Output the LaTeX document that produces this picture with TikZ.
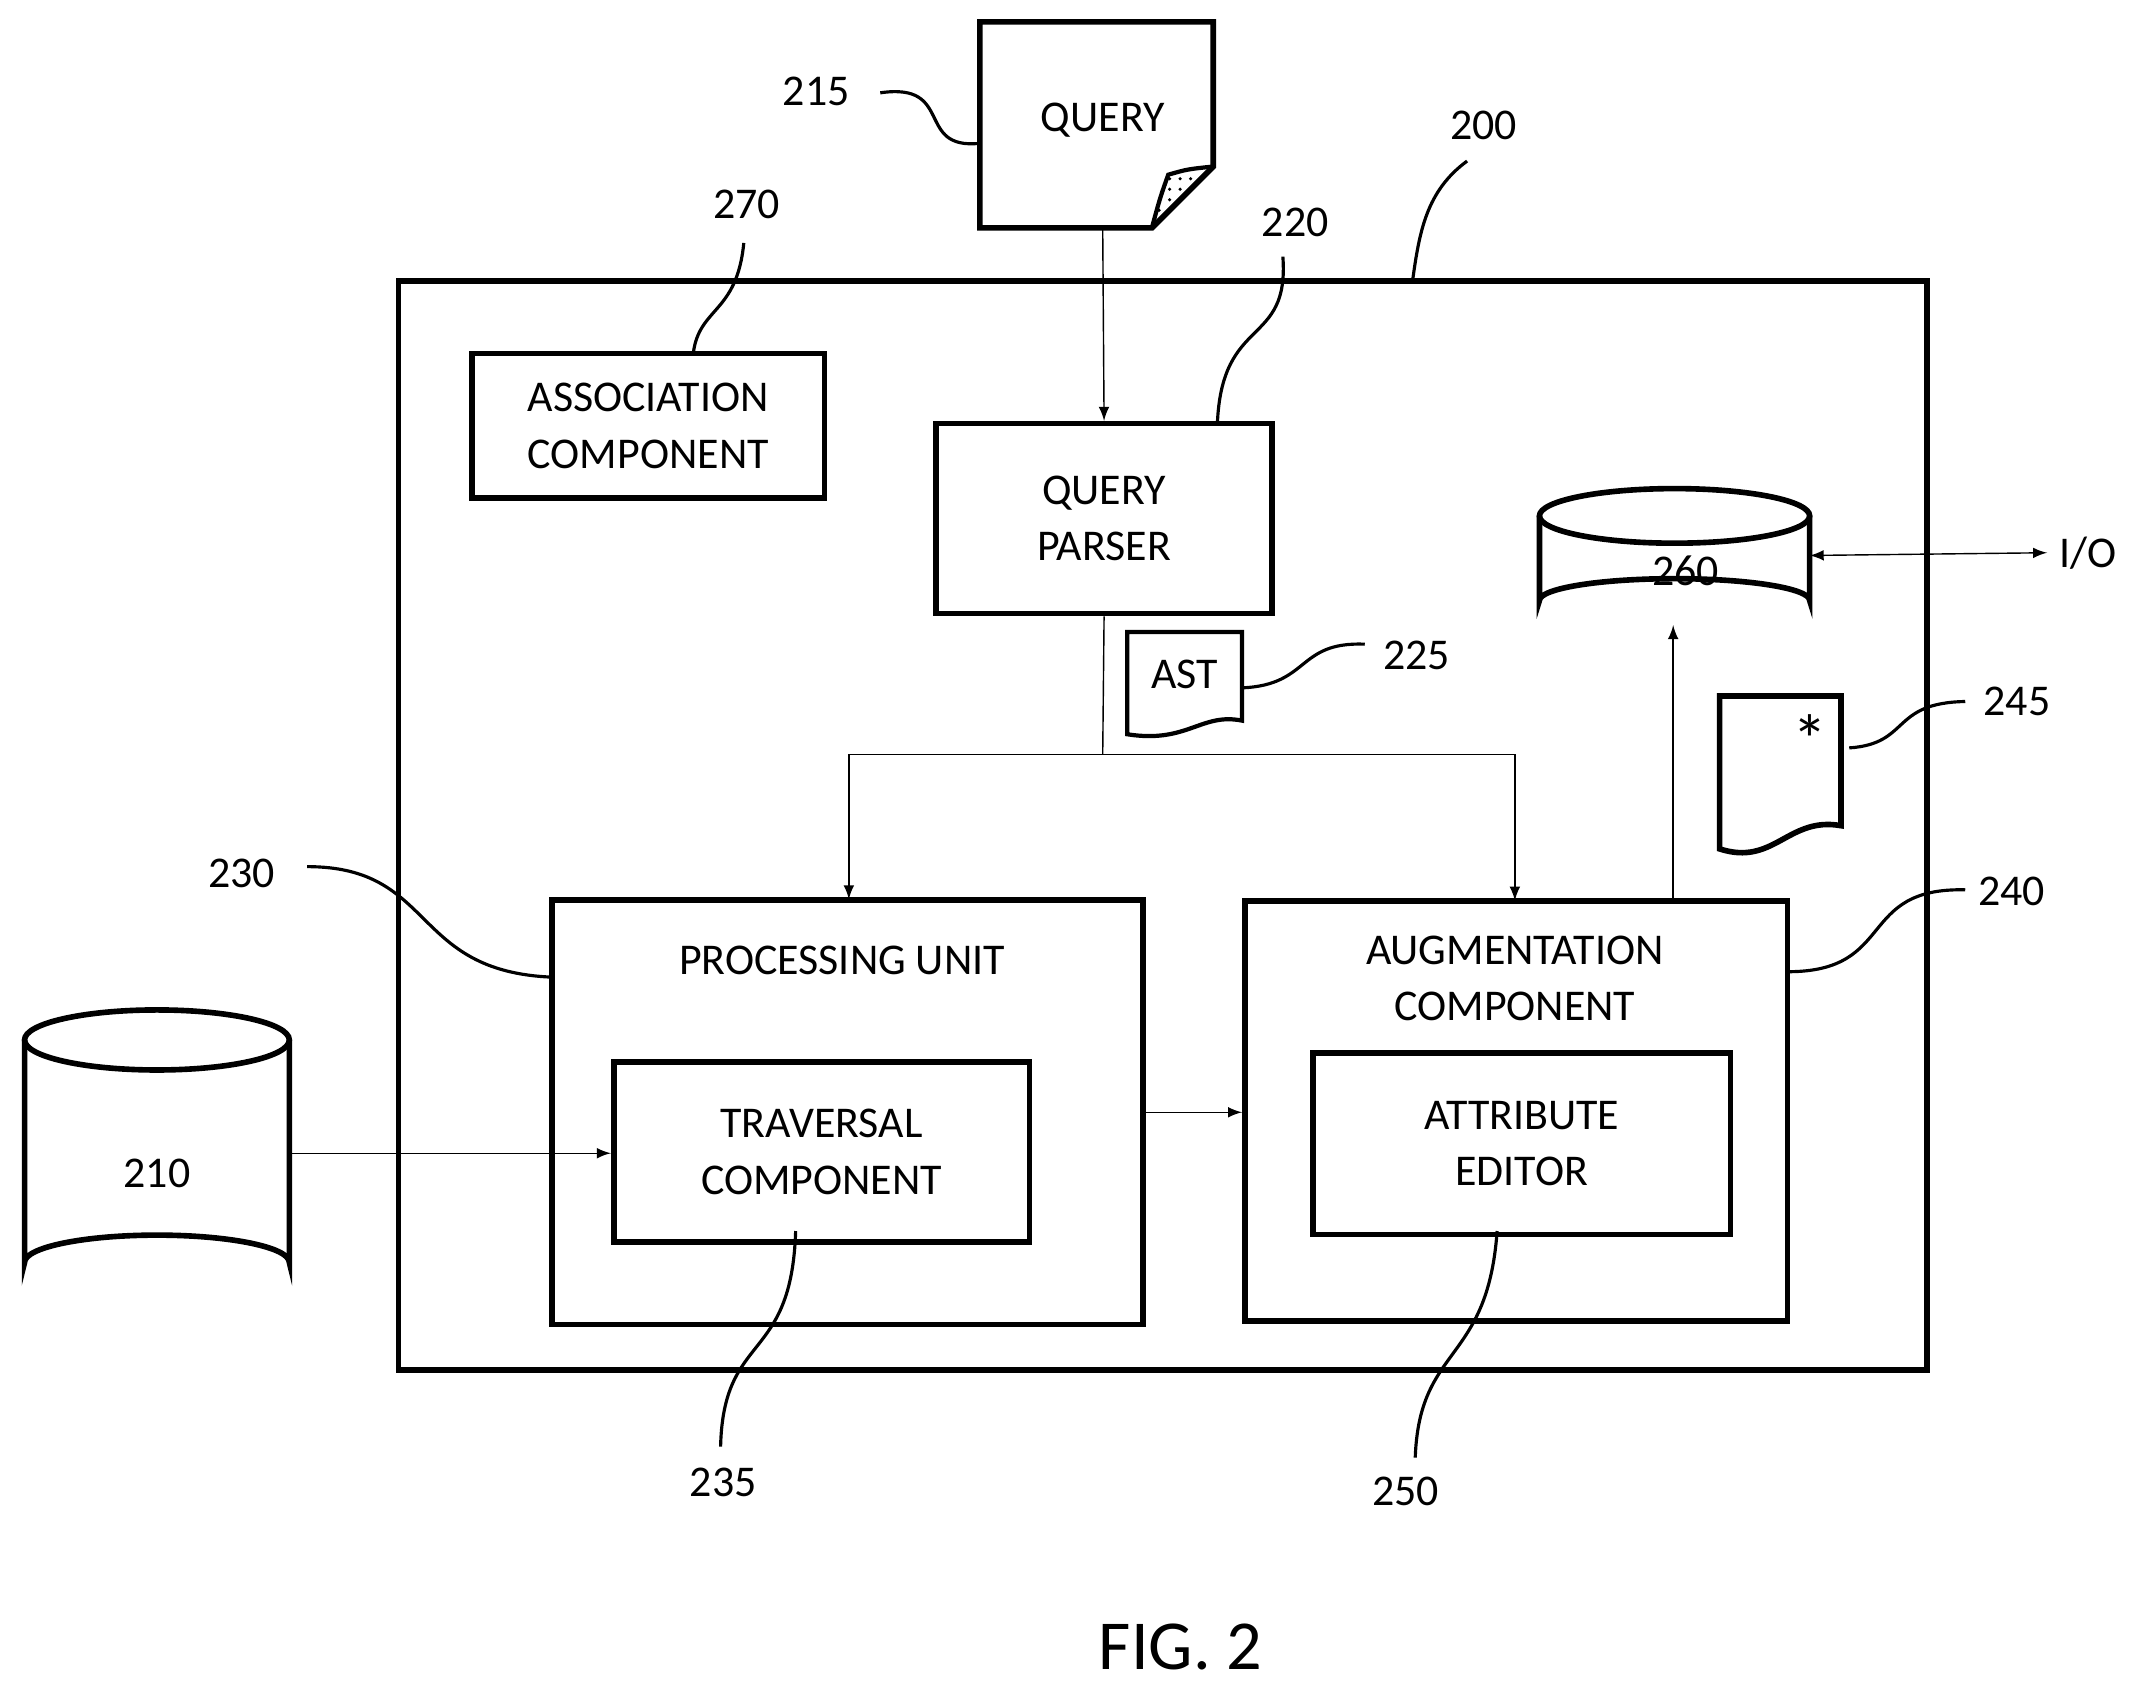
\documentclass[tikz,border=0pt]{standalone}
\usepackage{fontspec}
\setmainfont{Carlito}
\usetikzlibrary{patterns}
\begin{document}
\begin{tikzpicture}[x=0.01365cm,y=-0.01365cm]
% Styles
\tikzstyle{fleche}=[->,>=latex]
\tikzstyle{bloc}=[draw,line width=1.6pt,align=center,font=\fontsize{12.5}{16}\selectfont,inner sep=0pt]
\tikzstyle{renvoi}=[line width=0.9pt]
\tikzstyle{num}=[font=\fontsize{12.5}{15}\selectfont]
\useasboundingbox (0,0) rectangle (1560,1235);
% Boites
\draw[line width=1.6pt] (292,206) rectangle (1412,1004);
\node[bloc,minimum width=3.53cm,minimum height=1.45cm] (Assoc) at (475,312) {ASSOCIATION\\COMPONENT};
\node[bloc,minimum width=3.36cm,minimum height=1.90cm] (Parser) at (809,380) {QUERY\\PARSER};
\node[bloc,minimum width=5.91cm,minimum height=4.25cm] (Proc) at (621,815) {};
\node[num] (ProcT) at (617,704) {PROCESSING UNIT};
\node[bloc,minimum width=4.16cm,minimum height=1.80cm] (Trav) at (602,844) {TRAVERSAL\\COMPONENT};
\node[bloc,minimum width=5.43cm,minimum height=4.20cm] (Aug) at (1111,814) {};
\node[align=center,font=\fontsize{12.5}{16}\selectfont] (AugT) at (1110,717) {AUGMENTATION\\COMPONENT};
\node[bloc,minimum width=4.18cm,minimum height=1.82cm] (Attr) at (1115,838) {ATTRIBUTE\\EDITOR};
% Documents
\draw[line width=1.6pt] (718,16) -- (889,16) -- (889,122) -- (844,167) -- (718,167) -- cycle;
\fill[pattern=dots] (889,122) -- (844,167) -- (856,128) -- cycle;
\draw[line width=1.2pt] (889,122) .. controls (870,124) .. (856,128) .. controls (850,145) .. (844,167);
\node[num] (Query) at (808,88) {QUERY};
\draw[line width=1.2pt] (826,463) -- (910,463) -- (910,528) .. controls (880,522) and (870,545) .. (826,538) -- cycle;
\node[num] (Ast) at (868,494) {AST};
\draw[line width=1.6pt] (1260,510) -- (1349,510) -- (1349,605) .. controls (1310,598) and (1300,635) .. (1260,622) -- cycle;
\node[font=\fontsize{20}{20}\selectfont] (Star) at (1326,542) {*};
% Cylindres
\draw[line width=1.6pt] (1128,378) -- (1128,440) arc[start angle=180,end angle=360,x radius=99,y radius=16] -- (1326,378);
\draw[line width=1.6pt] (1227,378) ellipse[x radius=99,y radius=20];
\node[num] (Base260) at (1235,418) {260};
\coordinate (Bas260) at (1226,458);
\coordinate (Droite260) at (1326,407);
\draw[line width=1.6pt] (18,762) -- (18,925) arc[start angle=180,end angle=360,x radius=97,y radius=20] -- (212,762);
\draw[line width=1.6pt] (115,762) ellipse[x radius=97,y radius=22];
\node[num] (Base210) at (115,860) {210};
\coordinate (Droite210) at (212,845);
% Fleches
\coordinate (Bifur) at (808,553);
\coordinate (BasQuery) at (808,167);
\draw[fleche] (BasQuery) -- (Parser.north);
\draw (Parser.south) -- (Bifur);
\draw[fleche] (Bifur) -| (622,659);
\draw[fleche] (Bifur) -| (1110,660);
\draw[fleche] (Droite210) -- (Trav.west |- Droite210);
\draw[fleche] (Proc.east |- 0,815) -- (Aug.west |- 0,815);
\draw[fleche] (Aug.north -| Bas260) -- (Bas260);
\node[num] (IO) at (1530,405) {I/O};
\draw[<->,>=latex] (Droite260) -- (IO.west);
% Renvois
\node[num] (n215) at (598,67) {215};
\draw[renvoi] (645,68) .. controls (700,60) and (670,110) .. (718,105);
\node[num] (n270) at (547,150) {270};
\draw[renvoi] (545,178) .. controls (540,230) and (512,225) .. (508,259);
\node[num] (n200) at (1087,92) {200};
\draw[renvoi] (1075,118) .. controls (1045,140) and (1040,170) .. (1035,206);
\node[num] (n220) at (949,163) {220};
\draw[renvoi] (940,188) .. controls (945,255) and (895,230) .. (892,311);
\node[num] (n225) at (1038,480) {225};
\draw[renvoi] (1000,472) .. controls (950,470) and (960,502) .. (910,504);
\node[num] (n245) at (1478,514) {245};
\draw[renvoi] (1440,514) .. controls (1385,515) and (1400,545) .. (1355,548);
\node[num] (n230) at (177,640) {230};
\draw[renvoi] (225,635) .. controls (320,635) and (300,712) .. (405,716);
\node[num] (n240) at (1474,653) {240};
\draw[renvoi] (1440,652) .. controls (1360,650) and (1390,712) .. (1310,712);
\node[num] (n235) at (530,1086) {235};
\draw[renvoi] (583,902) .. controls (580,1000) and (530,975) .. (528,1060);
\node[num] (n250) at (1030,1093) {250};
\draw[renvoi] (1097,902) .. controls (1090,1000) and (1040,985) .. (1037,1068);
\node[font=\fontsize{20}{24}\selectfont] (Fig) at (865,1207) {FIG. 2};
\end{tikzpicture}
\end{document}
